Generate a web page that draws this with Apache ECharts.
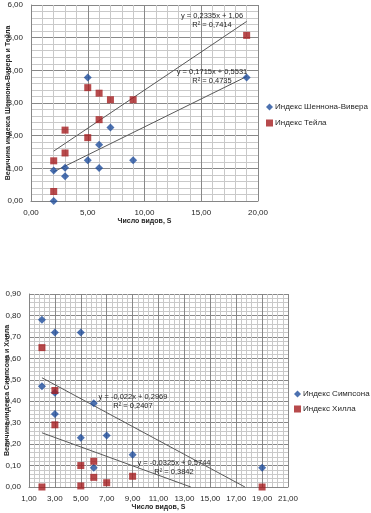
<!DOCTYPE html>
<html><head><meta charset="utf-8">
<script src="https://cdn.jsdelivr.net/npm/echarts@6/dist/echarts.min.js"></script>
<style>html,body{margin:0;padding:0;background:#fff}#c{width:371px;height:513px}</style>
</head><body><div id="c"></div>
<script>
// ---- Top chart data ----
const swX = [2, 2, 3, 3, 5, 5, 6, 6, 7, 9, 19];
const swY = [0.93, 0.00, 1.02, 0.76, 3.78, 1.25, 1.72, 1.01, 2.25, 1.25, 3.78];
const thX = [2, 2, 3, 3, 5, 5, 6, 6, 7, 9, 19];
const thY = [1.23, 0.29, 2.17, 1.47, 3.47, 1.94, 3.30, 2.49, 3.10, 3.10, 5.07];
const topTrend = [ // [slope, intercept, text1, text2]
  [0.2335, 1.06, 'y = 0,2335x + 1,06', 'R² = 0,7414'],
  [0.1715, 0.5531, 'y = 0,1715x + 0,5531', 'R² = 0,4735']
];
// ---- Bottom chart data ----
const siX = [2, 2, 3, 3, 3, 5, 5, 6, 6, 7, 9, 19];
const siY = [0.78, 0.47, 0.72, 0.44, 0.34, 0.72, 0.23, 0.39, 0.09, 0.24, 0.15, 0.09];
const hiX = [2, 2, 3, 3, 5, 5, 6, 6, 7, 9, 19];
const hiY = [0.65, 0.00, 0.45, 0.29, 0.10, 0.005, 0.12, 0.045, 0.02, 0.05, 0.00];
const botTrend = [
  [-0.0325, 0.5744, 'y = -0,0325x + 0,5744', 'R² = 0,3842'],
  [-0.022, 0.2969, 'y = -0,022x + 0,2969', 'R² = 0,2407']
];
const trendRange = [2, 19];
const xTitle = 'Число видов, S';
const yTitleTop = 'Величина индекса Шеннона-Вивера и Тейла';
const yTitleBot = 'Величина индекса Симпсона и Хилла';

const BLUE = '#1f4e9c', RED = '#a51d1f', TXT = '#262626';
const FONT = '"Liberation Sans", Arial, sans-serif';
const fmt = v => v.toFixed(2).replace('.', ',');
const zip = (xs, ys) => xs.map((x, i) => [x, ys[i]]);
function trendLine(a, b) {
  let x0 = trendRange[0], x1 = trendRange[1];
  if (a < 0 && a * x1 + b < 0) x1 = -b / a;
  return [[x0, a * x0 + b], [x1, a * x1 + b]];
}
function axisCommon() {
  return {
    axisLine: {show: true, onZero: false, lineStyle: {color: '#868686', width: 1}},
    axisTick: {show: false},
    axisLabel: {formatter: fmt, fontSize: 8, color: TXT, fontFamily: FONT},
    splitLine: {show: true, lineStyle: {color: '#888888', width: 1}},
    minorTick: {show: false, splitNumber: 5},
    minorSplitLine: {show: true, lineStyle: {color: '#c9c9c9', width: 1}},
    nameLocation: 'middle',
    nameTextStyle: {fontSize: 7, fontWeight: 'bold', color: TXT, fontFamily: FONT}
  };
}
const chart = echarts.init(document.getElementById('c'), null, {renderer: 'canvas'});
const series = [
  {name: 'Индекс Шеннона-Вивера', type: 'scatter', xAxisIndex: 0, yAxisIndex: 0, symbol: 'diamond', symbolSize: 8, itemStyle: {color: BLUE}, data: zip(swX, swY), z: 5},
  {name: 'Индекс Тейла', type: 'scatter', xAxisIndex: 0, yAxisIndex: 0, symbol: 'rect', symbolSize: 7, itemStyle: {color: RED}, data: zip(thX, thY), z: 5},
  {name: 'Индекс Симпсона', type: 'scatter', xAxisIndex: 1, yAxisIndex: 1, symbol: 'diamond', symbolSize: 8, itemStyle: {color: BLUE}, data: zip(siX, siY), z: 5},
  {name: 'Индекс Хилла', type: 'scatter', xAxisIndex: 1, yAxisIndex: 1, symbol: 'rect', symbolSize: 7, itemStyle: {color: RED}, data: zip(hiX, hiY), z: 5}
];
topTrend.forEach(t => series.push({type: 'line', xAxisIndex: 0, yAxisIndex: 0, data: trendLine(t[0], t[1]), symbol: 'none', lineStyle: {color: '#595959', width: 1}, z: 4, silent: true}));
botTrend.forEach(t => series.push({type: 'line', xAxisIndex: 1, yAxisIndex: 1, data: trendLine(t[0], t[1]), symbol: 'none', lineStyle: {color: '#595959', width: 1}, z: 4, silent: true}));

const labelPos = [[212, 11], [212, 67], [174, 458], [133, 392]];
const allTrends = topTrend.concat(botTrend);
const graphics = [];
allTrends.forEach((t, i) => {
  graphics.push({type: 'text', x: labelPos[i][0], y: labelPos[i][1], z: 10,
    style: {text: t[2] + '\n' + t[3], lineHeight: 9, fontSize: 7.5, fill: TXT, fontFamily: FONT, align: 'center', textAlign: 'center'}});
});

chart.setOption({
  animation: false,
  textStyle: {fontFamily: FONT},
  grid: [
    {left: 31, top: 5, width: 227, height: 196, containLabel: false, outerBoundsMode: 'none'},
    {left: 29, top: 294, width: 259, height: 193, containLabel: false, outerBoundsMode: 'none'}
  ],
  xAxis: [
    Object.assign(axisCommon(), {type: 'value', gridIndex: 0, min: 0, max: 20, interval: 5, name: xTitle, nameGap: 17}),
    Object.assign(axisCommon(), {type: 'value', gridIndex: 1, min: 1, max: 21, interval: 2, name: xTitle, nameGap: 16})
  ],
  yAxis: [
    Object.assign(axisCommon(), {type: 'value', gridIndex: 0, min: 0, max: 6, interval: 1, name: yTitleTop, nameGap: 19, nameMoveOverlap: false}),
    Object.assign(axisCommon(), {type: 'value', gridIndex: 1, min: 0, max: 0.9, interval: 0.1, name: yTitleBot, nameGap: 18, nameMoveOverlap: false})
  ],
  legend: [
    {data: [{name: 'Индекс Шеннона-Вивера', icon: 'diamond'}, {name: 'Индекс Тейла', icon: 'rect'}], left: 261, top: 98, orient: 'vertical', itemGap: 8, itemWidth: 7, itemHeight: 7, textStyle: {fontSize: 8, color: TXT, fontFamily: FONT, padding: [0, 0, 0, -3]}},
    {data: [{name: 'Индекс Симпсона', icon: 'diamond'}, {name: 'Индекс Хилла', icon: 'rect'}], left: 289, top: 385, orient: 'vertical', itemGap: 7, itemWidth: 7, itemHeight: 7, textStyle: {fontSize: 8, color: TXT, fontFamily: FONT, padding: [0, 0, 0, -3]}}
  ],
  graphic: graphics,
  series: series
});
</script></body></html>
